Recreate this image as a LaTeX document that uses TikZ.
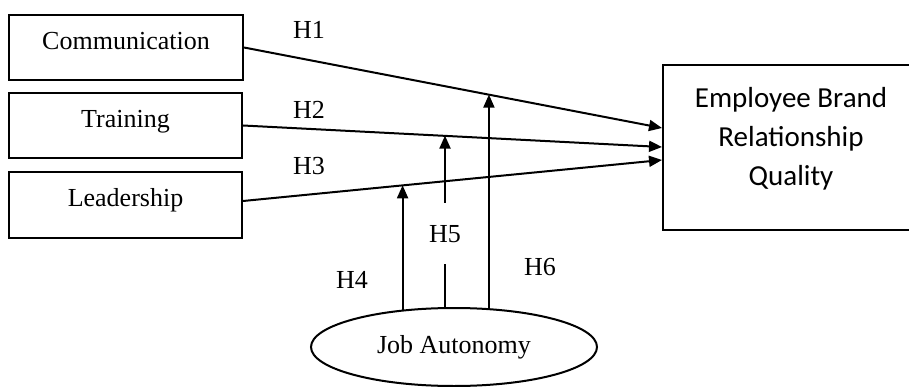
\documentclass[tikz,border=0pt]{standalone}
\usepackage{fontspec}
\setmainfont{Liberation Serif}
\newfontfamily\calib{Carlito}
\usetikzlibrary{arrows.meta,shapes.geometric}
\begin{document}
\begin{tikzpicture}[x=1pt,y=-1pt,
  every node/.style={inner sep=0pt},
  srcbox/.style={draw,line width=2pt,minimum width=234pt,minimum height=65pt,
    font=\fontsize{26}{30}\selectfont,text height=18pt,text depth=14pt},
  hlab/.style={font=\fontsize{26}{30}\selectfont},
  conn/.style={line width=2pt},
  arr/.style={conn,-{Triangle[length=13pt,width=11pt]}}]
\useasboundingbox (0,0) rectangle (909,387);
\node[srcbox] (comm) at (126,47.5) {Communication};
\node[srcbox,minimum width=233pt] (train) at (125.5,125.5) {Training};
\node[srcbox,minimum width=233pt,minimum height=66pt] (lead) at (125.5,205) {Leadership};
\node[draw,line width=2pt,minimum width=256pt,minimum height=165pt,align=center,
  font=\calib\fontsize{29}{39}\selectfont,text depth=22pt] (ebrq) at (791,147.5)
  {Employee Brand\\Relationship\\Quality};
\node[draw,ellipse,line width=2pt,minimum width=286pt,minimum height=78pt,
  font=\fontsize{26}{30}\selectfont] (ja) at (454,347) {Job Autonomy};
% target points
\coordinate (e1) at ([yshift=19.5pt]ebrq.west);
\coordinate (e2) at ([yshift=0.5pt]ebrq.west);
\coordinate (e3) at ([yshift=-12.5pt]ebrq.west);
\coordinate (l3) at ([yshift=4pt]lead.east);
\draw[arr] (comm.east) -- (e1);
\draw[arr] (train.east) -- (e2);
\draw[arr] (l3) -- (e3);
% moderating points on the lines
\coordinate (h4t) at (403,185.3);
\coordinate (h5t) at (445,135.6);
\coordinate (h6t) at (487,94.6);
\coordinate (h5a) at (445,264);
\coordinate (h5b) at (445,203);
\draw[arr] (ja.144.5) -- (ja.144.5 |- h4t);
\draw[conn] (ja.103) -- (ja.103 |- h5a);
\draw[arr] (h5b) -- (h5t);
\draw[arr] (ja.48.6) -- (ja.48.6 |- h6t);
% labels
\node[hlab] (lh1) at (309,30) {H1};
\node[hlab] (lh2) at (309,110) {H2};
\node[hlab] (lh3) at (309,166) {H3};
\node[hlab] (lh4) at (352,280) {H4};
\node[hlab] (lh5) at (445,234) {H5};
\node[hlab] (lh6) at (540,267) {H6};
\end{tikzpicture}
\end{document}
